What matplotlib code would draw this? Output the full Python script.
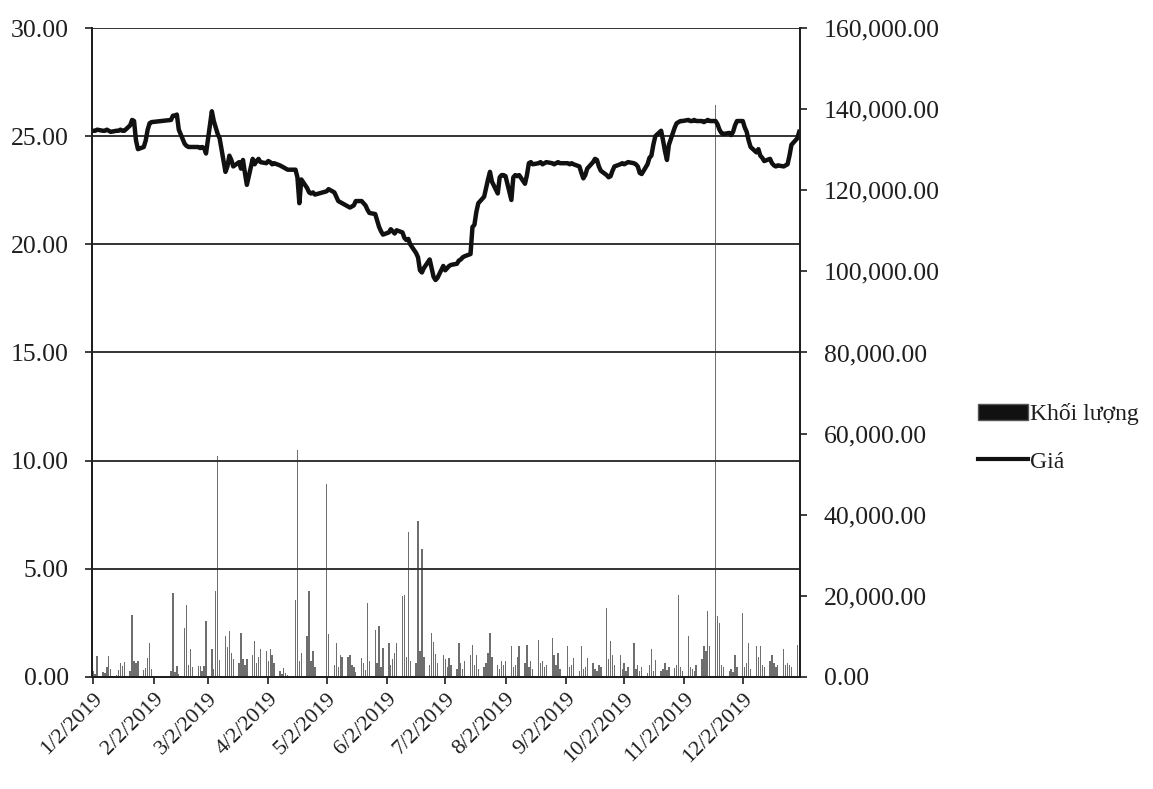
import matplotlib
matplotlib.use("Agg")
import matplotlib.pyplot as plt
import matplotlib.patches as mpatches
import matplotlib.lines as mlines
import numpy as np
import pandas as pd

plt.rcParams['font.family'] = ['Liberation Serif', 'DejaVu Serif']

# trading days of 2019 (HOSE holidays removed)
holidays = ['2019-02-04', '2019-02-05', '2019-02-06', '2019-02-07', '2019-02-08',
            '2019-04-15', '2019-04-29', '2019-04-30', '2019-05-01', '2019-09-02']
dates = pd.bdate_range('2019-01-02', '2019-12-31')
dates = dates[~dates.isin(pd.to_datetime(holidays))]

# closing price (left axis), one list per month
price_jan = [25.25, 25.25, 25.30, 25.25, 25.25, 25.30, 25.25, 25.20, 25.25, 25.25, 25.30,
             25.25, 25.25, 25.50, 25.75, 25.70, 24.80, 24.40, 24.50, 24.80, 25.30, 25.60]
price_feb = [25.65, 25.75, 25.95, 25.95, 26.00, 25.30, 24.65, 24.55, 24.50, 24.50, 24.50,
             24.50, 24.45, 24.50, 24.45]
price_mar = [24.20, 26.15, 25.70, 25.40, 25.10, 24.90, 23.35, 23.60, 24.10, 23.90, 23.60,
             23.80, 23.50, 23.90, 23.30, 22.75, 23.95, 23.70, 23.85, 23.95, 23.80]
price_apr = [23.75, 23.85, 23.80, 23.70, 23.75, 23.65, 23.60, 23.55, 23.50, 23.45, 23.45,
             23.10, 21.90, 23.00, 22.60, 22.40, 22.35, 22.40, 22.30]
price_may = [22.45, 22.55, 22.40, 22.20, 22.00, 21.95, 21.90, 21.75, 21.70, 21.75, 21.80,
             22.00, 22.00, 21.90, 21.80, 21.60, 21.45, 21.40, 21.10, 20.80, 20.60, 20.45]
price_jun = [20.55, 20.70, 20.60, 20.50, 20.65, 20.55, 20.30, 20.20, 20.25, 20.00, 19.60,
             19.40, 18.80, 18.70, 18.90, 19.30, 18.90, 18.50, 18.35, 18.45]
price_jul = [19.00, 18.80, 18.90, 19.00, 19.05, 19.10, 19.25, 19.30, 19.40, 19.45, 19.55,
             20.80, 20.90, 21.50, 21.90, 22.20, 22.60, 23.00, 23.35, 22.90, 22.35, 23.10, 23.20]
price_aug = [23.20, 23.15, 22.05, 23.10, 23.20, 23.15, 23.20, 22.80, 23.20, 23.75, 23.80,
             23.70, 23.75, 23.80, 23.70, 23.75, 23.80, 23.75, 23.70, 23.75, 23.80, 23.75]
price_sep = [23.75, 23.70, 23.75, 23.70, 23.60, 23.30, 23.05, 23.20, 23.50, 23.80, 23.95,
             23.90, 23.60, 23.40, 23.20, 23.10, 23.15, 23.40, 23.60, 23.70]
price_oct = [23.75, 23.70, 23.75, 23.80, 23.75, 23.70, 23.60, 23.30, 23.25, 23.70, 24.00,
             24.10, 24.60, 25.00, 25.25, 24.80, 24.30, 23.90, 24.60, 25.40, 25.60, 25.65, 25.70]
price_nov = [25.70, 25.75, 25.70, 25.70, 25.75, 25.70, 25.70, 25.65, 25.70, 25.75, 25.70,
             25.70, 25.55, 25.30, 25.15, 25.10, 25.15, 25.05, 25.20, 25.50, 25.70]
price_dec = [25.70, 25.40, 25.20, 24.80, 24.50, 24.25, 24.40, 24.10, 24.00, 23.85, 23.95,
             23.75, 23.65, 23.60, 23.65, 23.60, 23.65, 23.70, 24.10, 24.60, 24.90, 25.20]

# traded volume (right axis), one list per month
vol_jan = [1500, 800, 5100, 1200, 900, 2500, 5100, 2000, 600, 1800, 3500, 2800, 3600, 1500,
           15400, 3900, 3500, 4000, 1600, 2200, 4700, 8400]
vol_feb = [2000, 1500, 20700, 1200, 2700, 800, 12100, 17800, 3000, 6800, 2500, 2700, 2700,
           1500, 2700]
vol_mar = [13700, 6800, 2000, 21100, 54400, 4300, 10000, 7500, 11300, 6000, 4500, 3500,
           10900, 4500, 3000, 4500, 5500, 8800, 3500, 5000, 7000]
vol_apr = [6500, 4000, 7000, 5500, 3500, 1500, 800, 2200, 1000, 500, 19000, 56000, 4000,
           6000, 10000, 21100, 4000, 6400, 2500]
vol_may = [47500, 10500, 3000, 8400, 2500, 5500, 4800, 5000, 5500, 3000, 2500, 1200, 4700,
           3500, 1800, 18200, 4000, 11700, 3500, 12500, 2500, 7200]
vol_jun = [8400, 3000, 4500, 6000, 8400, 19900, 20300, 5000, 35700, 4000, 3500, 38400,
           6500, 31500, 5000, 3000, 10900, 8500, 5600, 3500]
vol_jul = [5500, 4500, 2500, 4700, 3000, 2000, 8400, 3500, 2000, 4000, 5500, 8000, 3000,
           5500, 2000, 2500, 3500, 6000, 10900, 5000, 3000, 2000, 4000]
vol_aug = [3000, 4000, 7600, 2500, 3000, 5000, 7600, 3500, 8000, 2500, 4000, 2000, 9200,
           3500, 4000, 2500, 3000, 9600, 5500, 3000, 6000, 2000]
vol_sep = [7600, 2500, 3000, 4700, 1500, 7600, 2000, 2500, 4700, 3500, 2000, 1500, 3000,
           2500, 17000, 4500, 8800, 5500, 3000, 5500]
vol_oct = [2000, 3500, 1500, 2500, 8400, 2000, 3000, 1500, 2500, 1000, 3000, 7000, 1500,
           4300, 1500, 2000, 3500, 1800, 2500, 2200, 3000, 20300, 2500]
vol_nov = [1500, 10000, 2500, 2000, 1500, 3000, 4500, 7600, 6500, 16200, 7600, 141000,
           15000, 13300, 3000, 2500, 1500, 2000, 1200, 5500, 2500]
vol_dec = [15800, 2500, 3500, 8400, 2000, 7600, 5000, 7600, 3000, 2500, 4000, 5500, 3500,
           2500, 3000, 6800, 3000, 3500, 3000, 2500, 8000, 4500]

price = (price_jan + price_feb + price_mar + price_apr + price_may + price_jun +
         price_jul + price_aug + price_sep + price_oct + price_nov + price_dec)
volume = (vol_jan + vol_feb + vol_mar + vol_apr + vol_may + vol_jun +
          vol_jul + vol_aug + vol_sep + vol_oct + vol_nov + vol_dec)

left_ticks = [0, 5, 10, 15, 20, 25, 30]
right_ticks = [0, 20000, 40000, 60000, 80000, 100000, 120000, 140000, 160000]
x_ticks = pd.to_datetime(['2019-01-02', '2019-02-02', '2019-03-02', '2019-04-02', '2019-05-02',
                          '2019-06-02', '2019-07-02', '2019-08-02', '2019-09-02', '2019-10-02',
                          '2019-11-02', '2019-12-02'])

ink = '#1e1e1e'
fig = plt.figure(figsize=(11.53, 7.89), dpi=100)
ax = fig.add_axes([0.08, 0.142, 0.614, 0.8225])
ax2 = ax.twinx()

ax2.bar(dates, volume, width=0.7, color='#6e6e6e', linewidth=0)
ax2.set_ylim(0, 160000)
ax2.set_yticks(right_ticks)
ax2.set_yticklabels([f"{v:,.2f}" for v in right_ticks])

# price line and gridlines drawn above the bars
ax.set_zorder(ax2.get_zorder() + 1)
ax.patch.set_visible(False)
ax.plot(dates, price, color='#111111', linewidth=3.2, solid_joinstyle='round')
ax.set_ylim(0, 30)
ax.set_yticks(left_ticks)
ax.set_yticklabels([f"{v:.2f}" for v in left_ticks])
ax.grid(axis='y', color='#333333', linewidth=1.4)
ax.set_xlim(pd.Timestamp('2019-01-01 12:00'), pd.Timestamp('2019-12-31 12:00'))
ax.set_xticks(x_ticks)
ax.set_xticklabels([f"{d.month}/{d.day}/{d.year}" for d in x_ticks],
                   rotation=45, ha='right', rotation_mode='anchor')

for a in (ax, ax2):
    a.spines['top'].set_visible(False)
    for s in a.spines.values():
        s.set_color(ink)
        s.set_linewidth(1.3)
    a.tick_params(colors=ink, labelsize=18.5, length=5, width=1.2)
ax.tick_params(axis='x', labelsize=16, pad=4)
ax.tick_params(axis='y', pad=12)
ax2.tick_params(axis='y', pad=12)

handles = [mpatches.Patch(facecolor='#111111', edgecolor='#555555'),
           mlines.Line2D([], [], color='#111111', linewidth=3)]
fig.legend(handles, ['Khối lượng', 'Giá'], loc='center left',
           bbox_to_anchor=(0.83, 0.445), frameon=False, fontsize=17,
           handlelength=2.1, handletextpad=0.1, labelspacing=1.1,
           labelcolor=ink)

fig.savefig('out.png', dpi=100, facecolor='white')
